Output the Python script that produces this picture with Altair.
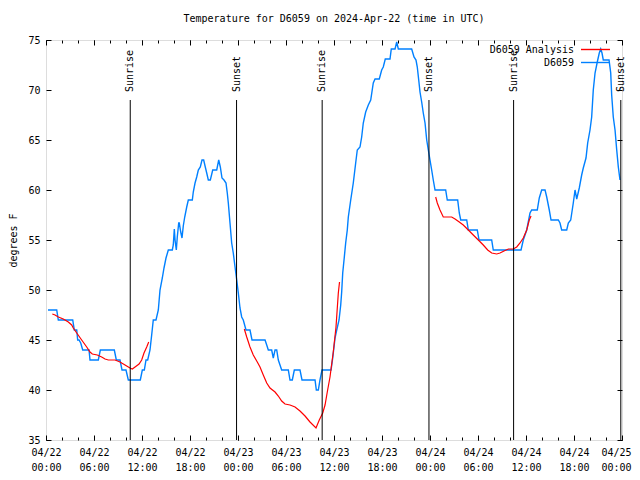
import json
import altair as alt
import pandas as pd

FONT = "DejaVu Sans Mono"
TITLE = "Temperature for D6059 on 2024-Apr-22 (time in UTC)"
Y_TITLE = "degrees F"

# x axis: hours since 2024-04-22 00:00 UTC
X_TICK_HOURS = list(range(0, 73, 6))
X_TICK_LABELS = [
    "04/22|00:00", "04/22|06:00", "04/22|12:00", "04/22|18:00",
    "04/23|00:00", "04/23|06:00", "04/23|12:00", "04/23|18:00",
    "04/24|00:00", "04/24|06:00", "04/24|12:00", "04/24|18:00",
    "04/25|00:00",
]
X_MINOR_HOURS = list(range(0, 73, 2))
Y_TICKS = [35, 40, 45, 50, 55, 60, 65, 70, 75]

SERIES_NAMES = ["D6059 Analysis", "D6059"]
SERIES_COLORS = ["#ff0000", "#0080ff"]

# observed station temperatures (blue)
obs_hours = [0.25, 1.34, 1.54, 3.34, 3.54, 3.84, 3.96, 4.13, 4.34, 4.59, 5.38, 5.5, 6.54, 6.79,
             8.54, 8.79, 9.25, 9.5, 10.0, 10.29, 11.79, 12.04, 12.29, 12.5, 12.71, 13.0, 13.21,
             13.41, 13.75, 14.04, 14.25, 14.54, 14.75, 15.0, 15.29, 15.79, 15.91, 16.04, 16.13,
             16.29, 16.41, 16.59, 16.66, 16.84, 17.0, 17.16, 17.34, 17.59, 17.79, 18.29, 18.41,
             18.63, 18.84, 19.04, 19.29, 19.5, 19.71, 19.91, 20.09, 20.29, 20.54, 20.84, 21.34,
             21.59, 21.79, 22.0, 22.25, 22.5, 22.66, 22.79, 23.0, 23.21, 23.41, 23.63, 23.84,
             24.04, 24.25, 24.46, 24.66, 25.0, 25.5, 25.75, 27.38, 27.59, 27.79, 28.21, 28.41,
             28.63, 28.84, 29.04, 29.25, 29.46, 30.29, 30.5, 30.79, 31.04, 31.75, 32.0, 33.63,
             33.79, 34.04, 34.25, 34.5, 35.63, 35.84, 36.13, 36.34, 36.63, 36.84, 36.96, 37.09,
             37.29, 37.46, 37.66, 37.79, 38.09, 38.41, 38.71, 38.91, 39.25, 39.46, 39.66, 39.96,
             40.29, 40.59, 40.91, 41.13, 41.66, 41.96, 42.16, 42.41, 43.0, 43.16, 43.63, 43.84,
             44.04, 45.71, 46.0, 46.25, 46.41, 46.59, 46.75, 46.96, 47.16, 47.38, 47.59, 47.79,
             48.21, 48.41, 48.63, 49.96, 50.16, 51.46, 51.66, 51.84, 52.59, 52.79, 53.91, 54.13,
             55.71, 55.91, 59.38, 59.66, 60.09, 60.5, 60.71, 61.41, 61.66, 61.96, 62.38, 62.59,
             62.91, 63.13, 64.04, 64.25, 64.46, 65.09, 65.29, 65.59, 65.91, 66.13, 66.34, 66.66,
             66.96, 67.16, 67.5, 67.71, 68.0, 68.21, 68.41, 68.63, 68.91, 69.16, 69.34, 69.5,
             69.66, 70.38, 70.59, 70.71, 70.91, 71.13, 71.34, 71.54, 71.75]
obs_temp = [48.0, 48.0, 47.0, 47.0, 46.0, 46.0, 45.0, 45.0, 44.7, 44.0, 44.0, 43.0, 43.0, 44.0,
            44.0, 43.0, 43.0, 42.0, 42.0, 41.0, 41.0, 42.0, 42.0, 43.0, 43.0, 44.0, 45.5,
            47.0, 47.0, 48.0, 50.0, 51.2, 52.2, 53.2, 54.0, 54.0, 54.5, 56.1, 55.0,
            54.0, 55.3, 56.7, 56.7, 55.8, 55.2, 56.4, 57.3, 58.3, 59.0, 59.0, 59.8,
            60.7, 61.3, 62.0, 62.3, 63.0, 63.0, 62.3, 61.7, 61.0, 61.0, 62.0, 62.0,
            63.0, 62.3, 61.2, 61.0, 60.7, 59.7, 58.7, 56.7, 54.7, 53.7, 52.3, 51.0,
            49.7, 48.2, 47.3, 47.0, 46.0, 46.0, 45.0, 45.0, 44.5, 44.0, 44.0, 43.2,
            44.0, 44.0, 43.0, 42.5, 42.0, 42.0, 41.0, 41.0, 42.0, 42.0, 41.0, 41.0,
            40.0, 40.0, 41.0, 42.0, 42.0, 43.2, 45.2, 46.0, 47.0, 48.5, 49.8, 51.7,
            53.3, 54.7, 56.0, 57.3, 59.0, 60.7, 62.7, 64.0, 64.3, 65.3, 66.7, 67.8,
            68.5, 69.0, 70.7, 71.1, 71.1, 72.0, 72.3, 73.1, 73.1, 74.1, 74.1, 74.8,
            74.1, 74.1, 73.3, 73.0, 72.3, 71.0, 69.8, 68.8, 67.7, 66.7, 65.0, 64.0,
            62.0, 61.0, 60.0, 60.0, 59.0, 59.0, 57.7, 57.0, 57.0, 56.0, 56.0, 55.0,
            55.0, 54.0, 54.0, 55.0, 56.0, 57.7, 58.0, 58.0, 59.2, 60.0, 60.0, 59.3,
            58.0, 57.0, 57.0, 56.7, 56.0, 56.0, 56.7, 57.0, 58.7, 60.0, 59.1, 60.2,
            61.5, 62.2, 63.2, 64.7, 66.0, 67.3, 70.0, 71.7, 72.8, 73.7, 74.1, 73.7,
            73.0, 73.0, 71.7, 69.5, 67.3, 66.0, 64.0, 62.3, 61.0]

# analysis temperatures (red), three separate night-time segments
ana1_hours = [0.79, 1.13, 1.54, 2.16, 2.79, 3.21, 3.41, 3.84, 4.46, 5.09, 5.5, 5.79, 6.41, 6.96,
              7.38, 7.79, 8.63, 9.25, 9.88, 10.5, 10.79, 11.13, 11.63, 11.96, 12.25, 12.59, 12.84]
ana1_temp = [47.6, 47.5, 47.3, 47.1, 46.8, 46.5, 46.2, 45.7, 45.0, 44.3, 43.8, 43.6, 43.5, 43.3,
             43.1, 43.0, 43.0, 42.8, 42.5, 42.2, 42.1, 42.3, 42.6, 43.0, 43.7, 44.3, 44.8]
ana2_hours = [24.79, 25.09, 25.5, 25.91, 26.41, 26.75, 27.16, 27.59, 28.0, 28.63, 29.04, 29.46,
              29.88, 30.5, 31.13, 31.75, 32.38, 33.0, 33.75, 34.16, 34.59, 34.88, 35.16, 35.5,
              35.91, 36.25, 36.54, 36.69]
ana2_temp = [46.1, 45.3, 44.3, 43.5, 42.8, 42.3, 41.5, 40.7, 40.2, 39.8, 39.4, 38.9,
             38.6, 38.5, 38.3, 37.9, 37.4, 36.8, 36.2, 37.0, 37.7, 38.5, 39.8, 41.3,
             43.8, 46.3, 49.7, 50.8]
ana3_hours = [48.71, 48.91, 49.25, 49.66, 50.71, 51.13, 51.66, 52.16, 52.79, 53.41, 54.04, 54.66,
              55.21, 55.71, 56.34, 56.75, 57.25, 57.79, 58.41, 58.84, 59.25, 59.66, 60.09, 60.41,
              60.63]
ana3_temp = [59.3, 58.7, 58.0, 57.3, 57.3, 57.1, 56.8, 56.5, 56.0, 55.5, 55.0, 54.5,
             54.0, 53.7, 53.6, 53.7, 53.9, 54.1, 54.1, 54.3, 54.7, 55.2, 56.0, 57.0,
             57.4]

# sunrise / sunset events
sun_hours = [10.53, 23.82, 34.52, 47.87, 58.45, 71.85]
sun_labels = ["Sunrise", "Sunset", "Sunrise", "Sunset", "Sunrise", "Sunset"]

obs_df = pd.DataFrame({"hour": obs_hours, "temp": obs_temp})
ana_df = pd.concat([
    pd.DataFrame({"hour": h, "temp": t, "seg": i})
    for i, (h, t) in enumerate([(ana1_hours, ana1_temp), (ana2_hours, ana2_temp), (ana3_hours, ana3_temp)])
])
sun_df = pd.DataFrame({"hour": sun_hours, "label": sun_labels})
leg_df = pd.DataFrame({"name": SERIES_NAMES, "color": SERIES_COLORS})

XDOM = alt.Scale(domain=[0, 72], nice=False, zero=False)
YDOM = alt.Scale(domain=[35, 75], nice=False, zero=False)

label_expr = "split(%s[round(datum.value / 6)], '|')" % json.dumps(X_TICK_LABELS)

common = dict(grid=False, domain=False, labelFont=FONT, titleFont=FONT, labelFontSize=10,
              titleFontSize=10, titleFontWeight="normal", labelColor="black", titleColor="black",
              tickColor="black", tickWidth=1)

x_bottom = alt.Axis(orient="bottom", values=X_TICK_HOURS, labelExpr=label_expr, tickSize=5, offset=-5,
                    labelPadding=7, labelLineHeight=15, labelFlush=False, labelOverlap=False,
                    labelAlign="center", labelBaseline="top", title=None,
                    labelOffset={"condition": {"test": "datum.value >= 72", "value": -6}, "value": 0},
                    **common)
x_top = alt.Axis(orient="top", values=X_TICK_HOURS, labels=False, tickSize=5, offset=-5, title=None, **common)
x_bottom_minor = alt.Axis(orient="bottom", values=X_MINOR_HOURS, labels=False, tickSize=3, offset=-3,
                          title=None, **common)
x_top_minor = alt.Axis(orient="top", values=X_MINOR_HOURS, labels=False, tickSize=3, offset=-3,
                       title=None, **common)
y_left = alt.Axis(orient="left", values=Y_TICKS, tickSize=5, offset=-5, labelPadding=6, labelFlush=False,
                  title=Y_TITLE, titlePadding=9, **common)
y_right = alt.Axis(orient="right", values=Y_TICKS, labels=False, tickSize=5, offset=-5, title=None, **common)

obs_line = alt.Chart(obs_df).mark_line(color=SERIES_COLORS[1], strokeWidth=1.4).encode(
    x=alt.X("hour:Q", scale=XDOM, axis=x_bottom),
    y=alt.Y("temp:Q", scale=YDOM, axis=y_left),
    order="hour:Q",
)
ana_line = alt.Chart(ana_df).mark_line(color=SERIES_COLORS[0], strokeWidth=1.2).encode(
    x=alt.X("hour:Q", scale=XDOM, axis=x_top),
    y=alt.Y("temp:Q", scale=YDOM, axis=y_right),
    detail="seg:N",
    order="hour:Q",
)
sun_rules = alt.Chart(sun_df).mark_rule(color="black", strokeWidth=1).encode(
    x=alt.X("hour:Q", scale=XDOM, axis=x_bottom_minor),
    y=alt.YDatum(69, type="quantitative", scale=YDOM, axis=None),
    y2=alt.Y2Datum(35),
)
sun_text = alt.Chart(sun_df).mark_text(angle=270, align="left", baseline="middle", font=FONT,
                                       fontSize=10, color="black").encode(
    x=alt.X("hour:Q", scale=XDOM, axis=x_top_minor),
    y=alt.YDatum(69.8, type="quantitative", scale=YDOM, axis=None),
    text="label:N",
)

legend_layers = []
for i, name in enumerate(SERIES_NAMES):
    sub = alt.Chart(leg_df).transform_filter(alt.datum.name == name)
    legend_layers.append(sub.mark_text(align="right", baseline="middle", font=FONT, fontSize=10,
                                       color="black").encode(
        text="name:N", x=alt.value(528), y=alt.value(9.5 + 13 * i)))
    legend_layers.append(sub.mark_rule(color=SERIES_COLORS[i], strokeWidth=1.4).encode(
        x=alt.value(535), x2=alt.value(564), y=alt.value(9.5 + 13 * i)))

chart = alt.layer(obs_line, ana_line, sun_rules, sun_text, *legend_layers).resolve_axis(
    x="independent", y="independent"
).properties(
    width=576, height=400,
    title=alt.TitleParams(TITLE, font=FONT, fontSize=10, fontWeight="normal", anchor="middle",
                          color="black", offset=11),
    autosize=alt.AutoSizeParams(type="none"),
    padding={"left": 38, "top": 32, "right": 10, "bottom": 32},
).configure_view(stroke="black", strokeWidth=1).configure(background="white")

chart.save("out.html", embed_options={"renderer": "svg", "actions": False})
